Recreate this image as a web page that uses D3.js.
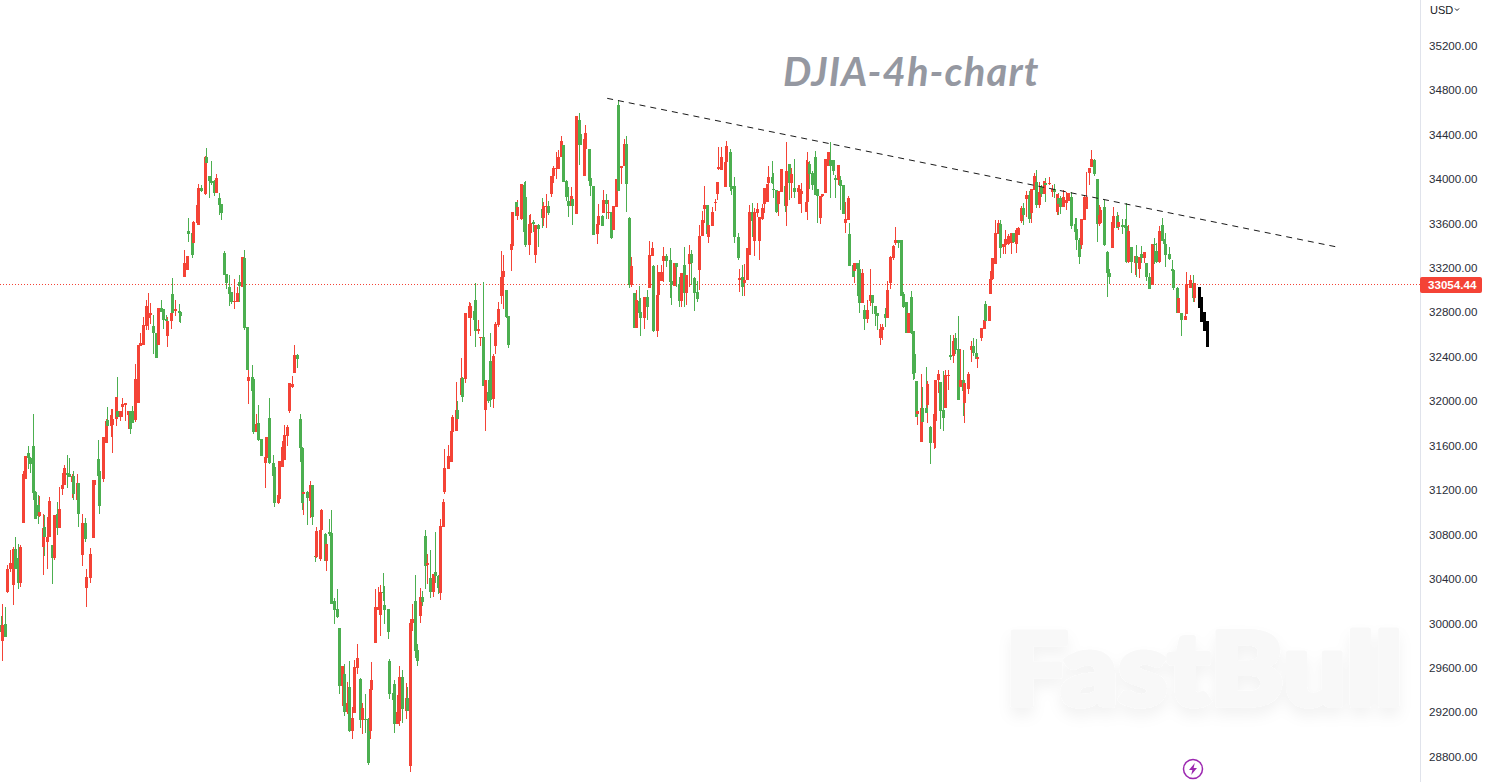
<!DOCTYPE html>
<html>
<head>
<meta charset="utf-8">
<script src="https://cdn.jsdelivr.net/npm/d3@7/dist/d3.min.js"></script>
<style>
html,body{margin:0;padding:0;background:#fff;overflow:hidden}
svg{display:block}
</style>
</head>
<body>
<svg id="chart" width="1486" height="782"></svg>
<script>
// Each row: bar number, open, high, low, close
const firstClimb = [[0,29985,30066,29925,29925],[1,29844,30174,29664,29985],[3,29994,30144,29880,29880],[4,30285,30525,30276,30489],[6,30486,30660,30465,30540],[8,30348,30690,30168,30666],[9,30666,30774,30489,30489],[11,30585,30714,30306,30366],[12,30366,30705,30330,30690],[14,30906,31368,30906,31341],[15,31299,31506,31299,31506],[17,31533,31596,31386,31485],[18,31485,31500,31356,31434],[20,31596,31884,31110,31176],[21,31185,31194,30942,30942],[23,31065,31155,30894,30963],[24,30963,31146,30954,30999],[26,30690,30984,30435,30861],[27,30864,30975,30606,30780],[29,30732,30957,30489,30777],[30,30777,31137,30777,31101],[32,30705,30705,30354,30588],[33,30588,30975,30570,30975],[35,30984,31092,30795,30858],[36,30858,31227,30858,31029],[38,31209,31353,31155,31245],[39,31245,31425,31245,31395],[41,31353,31515,31218,31335],[42,31347,31488,31320,31320],[44,31272,31344,31128,31329],[45,31329,31371,31110,31164],[47,31110,31344,31074,31263],[48,31263,31263,30867,30984],[50,30615,30984,30516,30903],[52,30903,30948,30732,30759],[53,30318,30489,30147,30417],[55,30408,30678,30363,30624],[57,30768,31290,30768,31290],[58,31245,31290,31164,31290]];
const secondClimb = [[60,31479,31650,31326,31326],[61,31371,31371,30984,31056],[63,31299,31677,31272,31677],[65,31626,31839,31626,31821],[66,31830,31947,31650,31776],[68,31776,31929,31677,31875],[69,31785,31929,31533,31839],[71,31839,32037,31776,32037],[72,31911,32217,31857,31857],[74,31857,31911,31821,31911],[75,31950,32028,31857,31974],[77,31965,31983,31821,31983],[79,31875,31911,31749,31911],[80,31911,31911,31704,31749],[81,31911,31956,31803,31803],[83,31830,32334,31812,32199],[85,31986,32505,31986,32505],[86,32496,32613,32496,32523],[88,32505,32757,32505,32685],[90,32679,32910,32640,32856],[91,32751,32970,32640,32793],[92,32775,32883,32694,32793],[94,32676,32775,32424,32610],[96,32610,32610,32391,32391],[97,32505,32841,32505,32841],[99,32838,32910,32802,32802],[100,32829,32829,32649,32730],[102,32736,32775,32694,32718],[103,32586,32760,32487,32724],[105,32721,32811,32649,32793],[106,32964,33105,32775,32790],[108,32811,32910,32766,32829],[110,32808,32874,32712,32796],[111,32802,32802,32703,32766]];
const firstPeak = [[113,33120,33360,33120,33240],[115,33180,33306,33180,33306],[116,33531,33648,33432,33504],[118,33516,33516,33288,33315],[119,33423,33618,33396,33612],[121,33606,33762,33606,33762],[122,33585,33954,33585,33918],[124,33918,33945,33882,33888],[126,33864,34206,33855,34194],[127,34194,34278,34050,34143],[129,34026,34026,33828,33981],[130,33984,34161,33945,33966],[132,33984,33990,33846,33873],[133,33873,34044,33873,34008],[135,33828,33870,33675,33768],[136,33774,33774,33630,33696],[138,33333,33351,33135,33135],[139,33141,33141,33006,33060],[141,33024,33135,32859,32964],[142,32985,32985,32874,32892],[144,32892,33099,32829,32901],[146,32892,33024,32892,32970],[147,33072,33135,32892,33036],[149,33030,33297,33030,33297],[150,33288,33360,32640,32658]];
const firstFall = [[152,32670,32670,32280,32280],[153,32181,32298,31974,32217],[155,32217,32325,32091,32091],[156,32199,32208,31704,31722],[158,31722,31884,31722,31794],[159,31803,31965,31641,31650],[161,31659,31659,31506,31506],[163,31443,31506,31218,31497],[164,31488,31674,31488,31674],[166,31848,32028,31434,31446],[168,31443,31515,31182,31326],[169,31407,31407,31047,31083],[171,31083,31245,31074,31155],[172,31119,31461,31110,31461],[174,31410,31641,31410,31587],[175,31470,31785,31470,31695],[177,31686,31785,31596,31767],[178,31911,32163,31893,32163],[180,32127,32226,32118,32154],[181,32256,32505,32256,32415],[183,32415,32424,32298,32379],[185,31839,31884,31452,31575],[186,31575,31587,31020,31086],[187,31164,31281,30975,31185],[189,31179,31191,30885,31128],[191,31101,31281,30948,31245],[192,31245,31245,30885,30957],[194,30606,30804,30552,30597],[195,30594,30867,30588,30831],[197,30579,30957,30561,30840],[198,30840,31029,30741,31020],[200,30804,30813,30561,30561],[201,30561,30804,30471,30714],[203,30822,30939,30786,30804],[204,30813,31020,30174,30174],[206,30201,30228,29994,30120],[208,30129,30309,30048,30057]];
const firstTrough = [[209,29958,29958,29364,29436],[211,29436,29616,29256,29616],[212,29544,29634,29166,29202],[214,29202,29472,29184,29283],[215,29427,29661,29022,29031],[217,29031,29247,28959,29148],[218,29193,29670,29193,29607],[220,29598,29814,29544,29688],[222,29499,29508,29058,29130],[223,29130,29283,29004,29238],[225,29139,29364,29010,29130],[227,29139,29148,28725,28743],[228,29031,29436,28959,29409],[229,29400,29652,29400,29490],[231,29823,30309,29823,30147],[233,30120,30327,30120,30147],[234,30075,30345,29886,30282],[236,30282,30453,30201,30273],[237,30165,30336,29994,30120],[239,30129,30129,29859,29922],[240,29661,29679,29319,29364],[242,29373,29400,29148,29310],[243,29454,29490,29013,29094],[245,29094,29355,29094,29202],[246,29121,29616,29076,29517],[248,29517,29580,29103,29229],[250,29211,29463,29139,29328],[251,29328,29427,29211,29211],[253,28716,30039,28662,30003]];
const bigRally = [[254,30003,30174,29931,30039],[256,30201,30435,29688,29751],[257,29760,29814,29616,29661],[259,30066,30318,30003,30237],[260,30237,30291,30156,30192],[262,30786,30840,30309,30516],[263,30525,30624,30354,30543],[265,30408,30660,30228,30282],[267,30282,30444,30237,30444],[268,30462,30822,30363,30426],[270,30426,30435,30264,30318],[271,30273,30939,30210,30876],[273,30867,31119,30867,31092],[274,31182,31569,31164,31398],[276,31389,31605,31389,31506],[278,31452,31803,31452,31731],[279,31722,31875,31686,31857],[281,31731,32172,31731,31920],[282,31920,32001,31776,31839],[284,32055,32388,32055,32208],[285,32208,32217,31992,32037],[287,32199,32793,32163,32793],[289,32751,32892,32751,32856],[290,32751,32883,32586,32856],[292,32811,32838,32685,32730],[293,32910,33060,32487,32631],[295,32631,32730,32604,32646],[296,32568,32577,32496,32577],[298,32577,33072,32136,32136],[299,31920,32190,31731,32190],[301,32082,32190,31983,32001],[302,32361,32613,31947,32010],[304,32019,32424,31938,32406],[305,32496,32712,32424,32694],[307,32685,32892,32667,32829],[309,32946,33351,32874,33120],[310,33120,33315,32829,33171],[312,33000,33000,32745,32754],[313,32766,32766,32475,32505],[315,33360,33531,33171,33414],[316,33399,33702,33390,33702],[318,33792,33792,33666,33666],[319,33666,33810,33630,33747],[321,33636,33954,33630,33954],[323,33945,33972,33522,33522],[324,33837,33981,33390,33405],[326,33405,33675,33315,33591],[327,33516,33684,33516,33600],[329,33612,33630,33522,33591],[330,33315,33585,33243,33585],[332,33585,33597,33387,33549],[334,33729,33828,33555,33648],[335,33648,33792,33576,33756],[337,33750,33864,33558,33756],[338,33756,33801,33675,33690]];
const highPlateau = [[340,33864,34026,33837,34026],[341,34026,34116,33960,34095],[343,34086,34242,34000,34095],[344,34086,34260,34086,34200],[346,34200,34386,34200,34341],[347,34305,34305,33972,33972],[349,33981,33990,33801,33840],[350,33801,33930,33657,33756],[352,33756,33930,33756,33846],[353,33819,33819,33585,33756],[355,33684,34566,33684,34566],[357,34530,34593,34125,34305],[358,34404,34467,34305,34305],[360,34026,34404,34026,34356],[361,34269,34485,34242,34413],[363,34269,34269,33984,33984],[364,34005,34026,33846,33936],[366,33936,33936,33495,33495],[368,33504,33630,33414,33591],[369,33585,33774,33510,33666],[371,33666,33675,33576,33576],[372,33696,33900,33696,33810],[374,33810,33864,33642,33774],[375,33696,33810,33642,33702],[377,33702,33702,33459,33468],[378,33540,33756,33540,33756],[380,33747,33999,33747,33999],[381,34665,34710,33891,33891],[383,34098,34116,33954,34116],[385,34116,34356,34116,34314],[386,34314,34386,33702,33954]];
const choppyMiddle = [[388,33648,33654,33018,33048],[389,33048,33297,33030,33216],[391,32970,32970,32658,32658],[392,32658,33000,32658,32910],[394,32904,33036,32796,32796],[395,32805,32925,32586,32748],[397,32748,32937,32649,32937],[399,32937,33000,32730,32844],[400,33018,33444,33018,33315],[402,33306,33432,33306,33378],[403,33216,33225,32625,32631],[405,32631,33225,32580,32955],[406,32955,33162,32814,33162],[408,33081,33222,33081,33165],[409,33258,33384,33072,33306],[411,33306,33324,33210,33264],[413,33270,33375,32928,33075],[414,33081,33210,32865,33045],[416,33036,33243,33036,33243],[417,33243,33243,33030,33210],[419,33054,33120,32850,32904],[420,32904,33153,32850,33153],[422,33225,33387,32844,32976],[423,32970,33135,32865,33135],[425,33237,33405,33030,33324],[426,33324,33360,33045,33240],[428,33105,33120,32814,32976],[430,32985,33081,32895,32916],[431,33180,33585,33000,33486],[433,33486,33711,33486,33630],[434,33726,33936,33600,33765],[436,33765,33765,33480,33504],[437,33474,33585,33420,33585],[439,33576,33744,33576,33702],[441,33780,33819,33714,33795],[442,33864,33969,33810,33969],[443,34092,34290,34080,34110],[445,34080,34284,34080,34197],[447,33924,34200,33924,34155],[448,34155,34341,34155,34296],[450,34245,34266,33894,33930],[451,33936,34017,33855,33906],[453,33936,34017,33426,33474],[455,33474,33510,33270,33291],[456,33090,33189,32985,33105]];
const secondPlateau = [[458,33117,33225,32946,33030],[459,33063,33231,32946,33090],[461,33090,33378,33090,33378],[462,33315,33765,33315,33699],[464,33699,33780,33480,33621],[465,33441,33741,33306,33699],[467,33690,33780,33654,33726],[468,33441,33660,33270,33660],[470,33636,33774,33630,33735],[471,33774,33915,33690,33915],[473,33795,33951,33795,33951],[474,33960,34116,33825,34020],[476,34017,34161,33951,33960],[477,33906,34050,33825,33900],[479,33900,33900,33690,33702],[480,33774,33894,33666,33894],[482,33882,34089,33882,34089],[484,33936,33984,33705,33756],[485,33756,34332,33576,34071],[487,34134,34134,33810,33966],[488,33966,34098,33825,34044],[490,33915,34179,33825,33885],[492,33882,33945,33855,33915],[493,33774,33945,33774,33906],[494,33864,33966,33690,33891],[497,33702,34170,33702,33795],[498,33795,34239,33630,34149],[499,34137,34164,33906,34044],[501,34056,34071,33900,33945],[503,34197,34251,33855,33855],[504,33906,33906,33606,33846],[506,33648,33846,33594,33846],[507,33846,33861,33840,33861],[509,33870,34179,33870,34179],[511,34116,34239,34116,34239],[512,34170,34332,33828,34116],[514,34170,34170,34035,34071],[515,34008,34035,33828,33990],[517,33990,34122,33945,34122],[518,33990,34026,33720,33936],[520,33945,33945,33684,33684],[521,33603,33795,33513,33639],[523,33630,33846,33630,33828]];
const secondFall = [[524,33504,33603,33219,33219],[526,33225,33225,33117,33117],[527,33171,33243,33063,33243],[529,33243,33243,32946,33189],[530,33189,33270,32793,32883],[532,32883,33189,32883,33153],[533,32820,32865,32640,32739],[535,32739,32910,32706,32820],[537,32901,33189,32856,32955],[538,32955,32955,32784,32886],[540,32856,32856,32676,32784],[541,32796,32796,32640,32766],[543,32568,32694,32505,32649],[544,32640,32694,32550,32667],[546,32784,32835,32670,32751],[547,32751,33084,32751,33000],[549,33063,33306,33009,33297],[551,33285,33405,33270,33396],[552,33426,33567,33405,33450],[554,33450,33450,33375,33426],[556,33450,33450,32949,32949],[557,32964,32985,32835,32850],[559,32895,32895,32616,32616],[560,32616,32793,32616,32793],[562,32937,32991,32604,32610],[563,32631,32631,32190,32244],[564,32424,32424,32196,32250],[565,32181,32181,31860,31860],[566,31887,32091,31785,31911],[568,31632,32244,31632,31935],[569,31935,32127,31812,31812],[571,31935,32307,31890,31890],[572,31965,32181,31806,32154],[574,31764,31776,31434,31626],[576,31626,31911,31566,31884],[577,31824,32190,31575,32190],[579,32190,32280,32070,32244],[580,32172,32172,31749,31914],[582,31920,32271,31731,31848],[583,31941,32280,31941,32235],[585,32226,32280,32100,32235],[586,32415,32595,32370,32400],[588,32406,32595,32346,32541],[589,32565,32610,32424,32460],[591,32466,32766,32010,32010],[592,32124,32466,32124,32190],[594,32190,32460,31866,32094],[595,31986,32160,31806,32160],[597,32112,32259,32064,32244],[599,32460,32544,32355,32496],[600,32496,32565,32406,32430],[602,32436,32556,32382,32382],[603,32382,32394,32301,32394]];
const thirdClimb = [[605,32565,32655,32544,32655],[607,32649,32727,32649,32727],[608,32874,32898,32685,32724],[610,32724,32856,32724,32856],[611,32967,33174,32967,33099],[612,33096,33285,33090,33285],[614,33234,33630,33234,33510],[616,33504,33630,33504,33600],[617,33594,33630,33285,33378],[619,33384,33411,33324,33411],[620,33405,33540,33324,33459],[622,33411,33504,33402,33486],[624,33420,33516,33324,33516],[625,33516,33516,33420,33435],[627,33414,33555,33336,33540],[628,33495,33570,33495,33555],[630,33621,33756,33600,33735],[631,33735,33780,33585,33675],[633,33819,33894,33654,33855],[635,33855,33894,33600,33639],[636,33696,33906,33600,33906],[638,33900,34056,33900,34026],[639,33969,34080,33741,33765],[641,33765,33975,33735,33885],[642,33930,33945,33840,33864],[644,33864,33978,33864,33978],[645,33966,34011,33795,33945],[647,33951,34014,33945,33966],[649,33882,33945,33834,33912],[650,33912,33954,33825,33882],[652,33705,33864,33675,33864],[653,33825,33870,33675,33774],[654,33825,33846,33684,33750],[656,33750,33900,33750,33834],[658,33786,33885,33720,33810],[659,33804,33870,33804,33870]];
const lastLeg = [[661,33834,33885,33546,33576],[663,33594,33645,33525,33525],[664,33546,33645,33360,33450],[666,33450,33465,33234,33300],[667,33405,33636,33366,33636],[669,33630,33855,33630,33840],[670,33729,34059,33729,33840],[672,34056,34095,33945,34095],[673,34110,34260,34110,34176],[675,34170,34179,34029,34044],[677,33999,33999,33435,33594],[678,33594,33765,33576,33675],[679,33606,33750,33600,33720],[681,33744,33810,33396,33402],[683,33345,33351,32940,33150],[684,33150,33186,33054,33120],[686,33378,33609,33378,33609],[687,33555,33750,33555,33666],[689,33666,33705,33555,33555],[690,33564,33675,33540,33612],[692,33582,33636,33504,33564],[694,33582,33639,33510,33561],[695,33576,33780,33240,33252],[696,33255,33585,33240,33534],[698,33390,33390,33156,33249],[700,33246,33309,33135,33309],[701,33309,33405,33120,33246],[703,33189,33300,33105,33300],[704,33324,33396,33240,33285],[706,33288,33342,33240,33342],[707,33246,33246,33084,33114],[709,33120,33150,33009,33009],[711,33045,33414,33045,33414],[712,33411,33465,33234,33402],[713,33351,33420,33246,33255],[715,33255,33576,33246,33534],[717,33585,33645,33441,33441],[718,33450,33462,33315,33414],[719,33414,33516,33210,33315],[721,33324,33390,33270,33276],[723,33186,33270,33114,33174],[724,33180,33186,33000,33015],[726,33015,33024,32790,32796],[727,32790,32925,32790,32925],[729,32796,32796,32586,32730],[731,32730,32865,32730,32766],[732,32784,33162,32784,33054],[734,33015,33135,33015,33090],[736,33060,33135,32895,32931],[737,32925,33060,32895,33060]];
const candles = [].concat(firstClimb, secondClimb, firstPeak, firstFall, firstTrough, bigRally, highPlateau, choppyMiddle, secondPlateau, secondFall, thirdClimb, lastLeg);

// Hand-drawn projection after the last bar: bar, top price, bottom price
const projectedBars = [[740,33030,32835],[741,32934,32715],[743,32799,32631],[745,32721,32490]];
// Resistance line: bar and price of both ends
const trendBars = [374.5,824];
const trendPrices = [34725,33390];
const lastPrice = 33054.44;
const priceTicks = [35200,34800,34400,34000,33600,33200,32800,32400,32000,31600,31200,30800,30400,30000,29600,29200,28800];
const titleText = "DJIA-4h-chart";
const watermarkText = "FastBull";
const currencyText = "USD";

const W = 1486, H = 782, axisX = 1420;
const UP = "#F44336", DOWN = "#4CAF50";
const x = d3.scaleLinear().domain([0,740]).range([0.5,1199.3]);
const y = d3.scaleLinear().domain([35610,28572]).range([0,H]);
const svg = d3.select("#chart");
const defs = svg.append("defs");
const f = defs.append("filter").attr("id","soft").attr("x","-10%").attr("y","-20%").attr("width","120%").attr("height","150%");
f.append("feDropShadow").attr("dx",0).attr("dy",8).attr("stdDeviation",7).attr("flood-color","#000").attr("flood-opacity",0.05);

// watermark
svg.append("text").text(watermarkText)
  .attr("x",1005).attr("y",705)
  .attr("textLength",398).attr("lengthAdjust","spacingAndGlyphs")
  .attr("font-family","Lato").attr("font-weight",900).attr("font-size",101)
  .attr("fill","#f8f8f8").attr("stroke","#f8f8f8").attr("stroke-width",5).attr("stroke-linejoin","round")
  .attr("filter","url(#soft)");

// last-price line
svg.append("line").attr("x1",0).attr("x2",axisX).attr("y1",Math.round(y(lastPrice))+0.5).attr("y2",Math.round(y(lastPrice))+0.5)
  .attr("stroke",UP).attr("stroke-width",1).attr("stroke-dasharray","1 2");

// candles
const g = svg.append("g").attr("shape-rendering","crispEdges");
const colour = d => d[4] >= d[1] ? UP : DOWN;
g.selectAll("rect.w").data(candles).join("rect").attr("class","w")
  .attr("x",d=>Math.round(x(d[0]))).attr("width",1)
  .attr("y",d=>y(d[2])).attr("height",d=>Math.max(1,y(d[3])-y(d[2])))
  .attr("fill",colour);
g.selectAll("rect.b").data(candles).join("rect").attr("class","b")
  .attr("x",d=>Math.round(x(d[0]))-1).attr("width",3)
  .attr("y",d=>y(Math.max(d[1],d[4]))).attr("height",d=>Math.max(1,Math.abs(y(d[1])-y(d[4]))))
  .attr("fill",colour);
g.selectAll("rect.p").data(projectedBars).join("rect").attr("class","p")
  .attr("x",d=>Math.round(x(d[0]))-1).attr("width",3)
  .attr("y",d=>y(d[1])).attr("height",d=>y(d[2])-y(d[1]))
  .attr("fill","#000");

// trend line
svg.append("line")
  .attr("x1",x(trendBars[0])).attr("y1",y(trendPrices[0]))
  .attr("x2",x(trendBars[1])).attr("y2",y(trendPrices[1]))
  .attr("stroke","#1a1a1a").attr("stroke-width",1).attr("stroke-dasharray","6 5");

// title
svg.append("text").text(titleText)
  .attr("x",783).attr("y",86)
  .attr("font-family","Lato").attr("font-weight",700).attr("font-style","italic").attr("font-size",40)
  .attr("letter-spacing",1.1).attr("fill","#9598a1");

// price axis
const axis = d3.axisRight(y).tickValues(priceTicks).tickFormat(d3.format(".2f")).tickSize(0).tickPadding(9);
const ag = svg.append("g").attr("transform",`translate(${axisX},0)`).call(axis);
ag.select(".domain").remove();
ag.selectAll("text").attr("font-family","Liberation Sans").attr("font-size",11.6).attr("fill","#2a2e39");
svg.append("line").attr("x1",axisX+0.5).attr("x2",axisX+0.5).attr("y1",0).attr("y2",H).attr("stroke","#e0e3eb");

// currency
svg.append("text").text(currencyText).attr("x",1430).attr("y",13.5)
  .attr("font-family","Liberation Sans").attr("font-size",11).attr("fill","#131722");
svg.append("path").attr("d","M1455 8.5l2 2 2-2").attr("fill","none").attr("stroke","#131722").attr("stroke-width",1);

// last price tag
svg.append("rect").attr("x",axisX).attr("y",277).attr("width",62).attr("height",16).attr("rx",2).attr("fill",UP);
svg.append("text").text(lastPrice.toFixed(2)).attr("x",1428).attr("y",289)
  .attr("font-family","Liberation Sans").attr("font-weight",700).attr("font-size",11.6).attr("fill","#fff");

// lightning badge
const badge = svg.append("g").attr("transform","translate(1193,769)");
badge.append("circle").attr("r",9.5).attr("fill","#fff").attr("stroke","#9c27b0").attr("stroke-width",1.5);
badge.append("path").attr("d","M1.8 -6 L-4 1 H-0.6 L-1.8 6 L4 -1 H0.6 Z").attr("fill","#9c27b0");
</script>
</body>
</html>
